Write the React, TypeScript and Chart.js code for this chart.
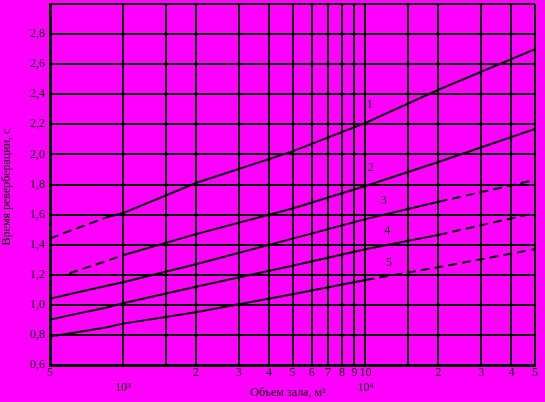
import React, { useEffect, useRef } from "react";
import { Chart, registerables } from "chart.js";

Chart.register(...registerables);

// Hall volume, m³
const volumes = [500, 600, 850, 1000, 2000, 5000, 10000, 20000, 50000];
// Reverberation time, s
const curve1 = [1.44, 1.49, 1.58, 1.61, 1.81, 2.02, 2.21, 2.43, 2.7];
const curve2 = [null, 1.21, 1.29, 1.33, 1.47, 1.64, 1.79, 1.95, 2.17];
const curve3 = [1.04, 1.07, 1.125, 1.15, 1.27, 1.44, 1.57, 1.685, 1.83];
const curve4 = [0.9, 0.93, 0.98, 1.01, 1.12, 1.26, 1.37, 1.465, 1.61];
const curve5 = [0.79, 0.81, 0.85, 0.875, 0.95, 1.07, 1.165, 1.25, 1.37];
const curves = [curve1, curve2, curve3, curve4, curve5];
// dashed index range [from, to] of each curve
const dashedRanges = [[0, 2], [1, 3], [7, 8], [7, 8], [6, 8]];

const curveNames = ["1", "2", "3", "4", "5"];
const curveNameVolumes = [10400, 10500, 11900, 12300, 12500];
const curveNameTimes = [2.33, 1.91, 1.69, 1.49, 1.28];

const xTickLabels: Record<number, string | string[]> = {
  500: "5",
  1000: ["", "10³"],
  2000: "2", 3000: "3", 4000: "4", 5000: "5", 6000: "6", 7000: "7", 8000: "8", 9000: "9",
  10000: ["10", "10⁴"],
  20000: "2", 30000: "3", 40000: "4", 50000: "5",
};
const hiddenXGrid = [600, 700, 800, 900];

const xTitle = "Объем зала, м³";
const yTitle = "Время реверберации, с";

const FONT = "'Liberation Serif', 'DejaVu Serif', serif";

export default function App() {
  const ref = useRef<HTMLCanvasElement | null>(null);

  useEffect(() => {
    document.body.style.margin = "0";
    const canvas = ref.current;
    if (!canvas) return;

    const bgPlugin = {
      id: "bg",
      beforeDraw(chart: any) {
        const c = chart.ctx;
        c.save();
        c.fillStyle = "#ff00ff";
        c.fillRect(0, 0, chart.width, chart.height);
        c.restore();
      },
      afterDraw(chart: any) {
        const c = chart.ctx;
        const xs = chart.scales.x;
        const ys = chart.scales.y;
        c.save();
        c.fillStyle = "#000";
        c.font = `12px ${FONT}`;
        c.textAlign = "center";
        c.textBaseline = "middle";
        curveNames.forEach((n, i) => {
          c.fillText(n, xs.getPixelForValue(curveNameVolumes[i]), ys.getPixelForValue(curveNameTimes[i]));
        });
        c.fillText(xTitle, 288, 393);
        c.translate(7, 187);
        c.rotate(-Math.PI / 2);
        c.fillText(yTitle, 0, 0);
        c.restore();
      },
    };

    const chart = new Chart(canvas, {
      type: "line",
      data: {
        datasets: curves.map((vals, i) => ({
          label: curveNames[i],
          data: volumes.map((v, j) => ({ x: v, y: vals[j] as any })),
          borderColor: "#000",
          borderWidth: 2,
          pointRadius: 0,
          fill: false,
          tension: 0,
          segment: {
            borderDash: (ctx: any) =>
              ctx.p0DataIndex >= dashedRanges[i][0] && ctx.p0DataIndex < dashedRanges[i][1]
                ? [9, 5]
                : undefined,
          },
        })),
      },
      options: {
        animation: false,
        responsive: false,
        maintainAspectRatio: false,
        layout: { padding: { left: 0, top: 4, right: 10, bottom: 0 } },
        plugins: { legend: { display: false }, tooltip: { enabled: false } },
        scales: {
          x: {
            type: "logarithmic",
            min: 500,
            max: 50000,
            afterFit(scale: any) {
              scale.height = 37;
            },
            border: { color: "#000", width: 3 },
            grid: {
              drawTicks: false,
              lineWidth: 2,
              color: (ctx: any) =>
                ctx.tick && hiddenXGrid.includes(Math.round(ctx.tick.value)) ? "rgba(0,0,0,0)" : "#000",
            },
            ticks: {
              autoSkip: false,
              maxRotation: 0,
              padding: 1,
              color: "#000",
              font: { family: FONT, size: 12 },
              callback: (v: any) => {
                const l = xTickLabels[Math.round(Number(v))];
                return l === undefined ? "" : l;
              },
            },
          },
          y: {
            type: "linear",
            min: 0.6,
            max: 3.0,
            afterFit(scale: any) {
              scale.width = 50;
              scale.paddingTop = 0;
              scale.paddingBottom = 0;
            },
            border: { color: "#000", width: 3 },
            grid: { drawTicks: false, lineWidth: 2, color: "#000" },
            ticks: {
              stepSize: 0.2,
              padding: 5,
              color: "#000",
              font: { family: FONT, size: 12 },
              callback: (v: any) => {
                const n = Number(v);
                if (n > 2.9) return "";
                return n.toFixed(1).replace(".", ",");
              },
            },
          },
        },
      },
      plugins: [bgPlugin],
    } as any);

    return () => chart.destroy();
  }, []);

  return (
    <div style={{ width: 545, height: 402, background: "#ff00ff" }}>
      <canvas ref={ref} width={545} height={402} style={{ display: "block", width: 545, height: 402 }} />
    </div>
  );
}
